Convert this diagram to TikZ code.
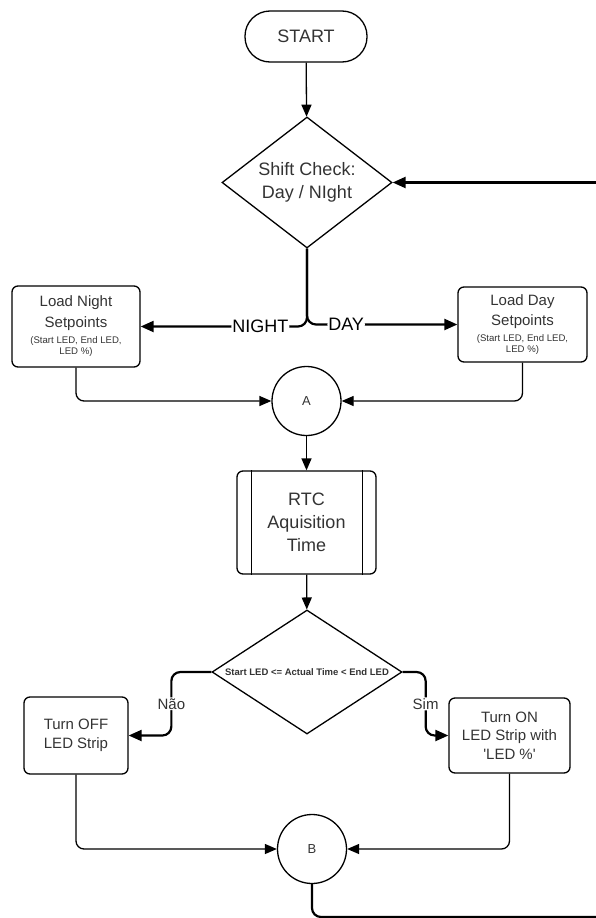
\documentclass[tikz,border=0pt]{standalone}
\usepackage{fontspec}
\setmainfont{Liberation Sans}
\usetikzlibrary{shapes.geometric,arrows.meta}

\begin{document}
\begin{tikzpicture}[x=1pt, y=-1pt,
    every node/.style={text=black!80, align=center},
    flowline/.style={line width=1.3pt, rounded corners=8pt, >={Triangle[length=12pt,width=10pt]}},
    branchline/.style={line width=2.2pt, rounded corners=9pt, >={Triangle[length=13pt,width=11pt]}},
    termbox/.style={draw, line width=1.3pt, rounded corners=25pt, minimum width=122pt, minimum height=51pt, font=\fontsize{18}{22}\selectfont},
    decbox/.style={draw, diamond, line width=1.3pt, inner sep=0pt},
    procbox/.style={draw, line width=1.3pt, rounded corners=6pt, inner sep=0pt},
    joinpt/.style={draw, circle, line width=1.3pt, minimum size=69pt, inner sep=0pt, font=\fontsize{13}{15}\selectfont},
    branchlbl/.style={fill=white, inner sep=1pt, text=black, font=\fontsize{18}{20}\selectfont},
    yesnolbl/.style={fill=white, inner sep=1pt, font=\fontsize{15}{17}\selectfont}]
      \useasboundingbox (0,0) rectangle (595,918);
      % shapes
      \node [termbox] (start) at (306,36.5) {START};
      \node [decbox, minimum width=170pt, minimum height=131pt, aspect=1.3, font=\fontsize{18}{23}\selectfont] (shift) at (307,182.5) {Shift Check:\\Day / NIght};
      \node [procbox, minimum width=128pt, minimum height=81pt, font=\fontsize{15}{21}\selectfont] (night) at (76,326.5) {Load Night\\Setpoints\\[-5pt]{\fontsize{9.6}{11}\selectfont (Start LED, End LED,}\\[-10pt]{\fontsize{9.6}{11}\selectfont LED \%)}};
      \node [procbox, minimum width=129pt, minimum height=75pt, font=\fontsize{15}{20}\selectfont] (day) at (522.5,324.5) {Load Day\\Setpoints\\[-4pt]{\fontsize{9.6}{11}\selectfont (Start LED, End LED,}\\[-9pt]{\fontsize{9.6}{11}\selectfont LED \%)}};
      \node [joinpt] (ja) at (306.5,401) {A};
      \node [procbox, minimum width=139pt, minimum height=103pt, font=\fontsize{18}{23}\selectfont] (rtc) at (306.5,522.5) {RTC\\Aquisition\\Time};
      \draw [line width=1.3pt] ([xshift=15pt]rtc.north west) -- ([xshift=15pt]rtc.south west);
      \draw [line width=1.3pt] ([xshift=-14pt]rtc.north east) -- ([xshift=-14pt]rtc.south east);
      \node [decbox, minimum width=190pt, minimum height=124pt, aspect=1.53, font=\bfseries\fontsize{9.5}{11}\selectfont] (range) at (307,672) {Start LED <= Actual Time < End LED};
      \node [procbox, minimum width=104pt, minimum height=77pt, font=\fontsize{15}{18.5}\selectfont] (off) at (76,735.5) {Turn OFF\\LED Strip};
      \node [procbox, minimum width=121pt, minimum height=75pt, font=\fontsize{15}{18.5}\selectfont] (on) at (509.5,735.5) {Turn ON\\LED Strip with\\\textquotesingle LED \%\textquotesingle};
      \node [joinpt] (jb) at (312,849) {B};
      \coordinate (loopout) at (600,917);
      \coordinate (loopin) at (600,182.5);
      % connectors
      \draw [flowline, ->] (start) -- (shift);
      \draw [branchline, ->] (shift.south) |- node [branchlbl, pos=0.64] {NIGHT} (night.east);
      \draw [branchline, ->] (shift.south) |- node [branchlbl, pos=0.63] {DAY} (day.west);
      \draw [flowline, ->] (night.south) |- (ja.west);
      \draw [flowline, ->] (day.south) |- (ja.east);
      \draw [flowline, ->] (ja) -- (rtc);
      \draw [flowline, ->] (rtc) -- (range);
      \draw [branchline, ->] (range.west) -- ++(-40,0) |- node [yesnolbl, pos=0.25] {Não} (off.east);
      \draw [branchline, ->] (range.east) -- ++(23,0) |- node [yesnolbl, pos=0.25] {Sim} (on.west);
      \draw [flowline, ->] (off.south) |- (jb.west);
      \draw [flowline, ->] (on.south) |- (jb.east);
      \draw [branchline] (jb.south) |- (loopout);
      \draw [branchline, ->] (loopin) -- (shift.east);
\end{tikzpicture}
\end{document}
